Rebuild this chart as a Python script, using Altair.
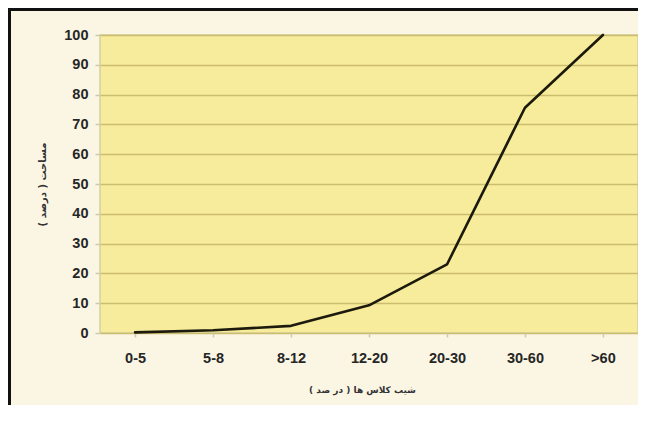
import altair as alt
import pandas as pd

categories = ["0-5", "5-8", "8-12", "12-20", "20-30", "30-60", ">60"]
values = [0.2, 0.9, 2.4, 9.3, 23.0, 75.6, 100.0]
y_ticks = [0, 10, 20, 30, 40, 50, 60, 70, 80, 90, 100]

x_title = "شیب کلاس ها ( در صد )"
y_title = "مساحت ( درصد )"

df = pd.DataFrame({"cat": categories, "val": values})

W, H = 538, 298

base = alt.Chart(df)

line = base.mark_line(color="#1c1a0c", strokeWidth=2.6, strokeJoin="round", strokeCap="round").encode(
    x=alt.X("cat:O", sort=categories,
            scale=alt.Scale(type="point", padding=0.45),
            axis=alt.Axis(title=x_title, labelAngle=0, labelFont="Liberation Sans",
                          labelFontWeight="bold", labelFontSize=14.5, labelColor="#262626",
                          labelPadding=14, tickSize=4, tickColor="#cfc9b0", tickWidth=1.5,
                          domain=False, titleFont="DejaVu Sans", titleFontSize=9,
                          titleFontWeight="bold", titleColor="#333", titlePadding=21,
                          titleX=262)),
    y=alt.Y("val:Q", scale=alt.Scale(domain=[0, 100], nice=False),
            axis=alt.Axis(title=y_title, values=y_ticks, labelFont="Liberation Sans",
                          labelFontWeight="bold", labelFontSize=14.5, labelColor="#262626",
                          labelPadding=7, tickSize=5, tickColor="#cfc9b0", tickWidth=1.5,
                          domain=False, grid=True, gridColor="#cbbd6e", gridWidth=1.5,
                          titleFont="DejaVu Sans", titleFontSize=10, titleFontWeight="bold",
                          titleColor="#333", titlePadding=16)),
)

frame_left = base.mark_rule(color="#111111", strokeWidth=3).encode(
    x=alt.value(-91), y=alt.value(-30), y2=alt.value(H + 100)
)
frame_top = base.mark_rule(color="#111111", strokeWidth=3).encode(
    y=alt.value(-26), x=alt.value(-92), x2=alt.value(W + 20)
)

chart = alt.layer(line, frame_left, frame_top).properties(
    width=W, height=H,
    autosize=alt.AutoSizeParams(type="none"),
    padding={"left": 92, "top": 27, "right": 0, "bottom": 72},
    background="#fbf6e4",
).configure_view(
    fill="#f7ec9c", stroke="#d6cf9e", strokeWidth=1.5
)

chart.save("out.html", embed_options={"renderer": "svg", "actions": False})
